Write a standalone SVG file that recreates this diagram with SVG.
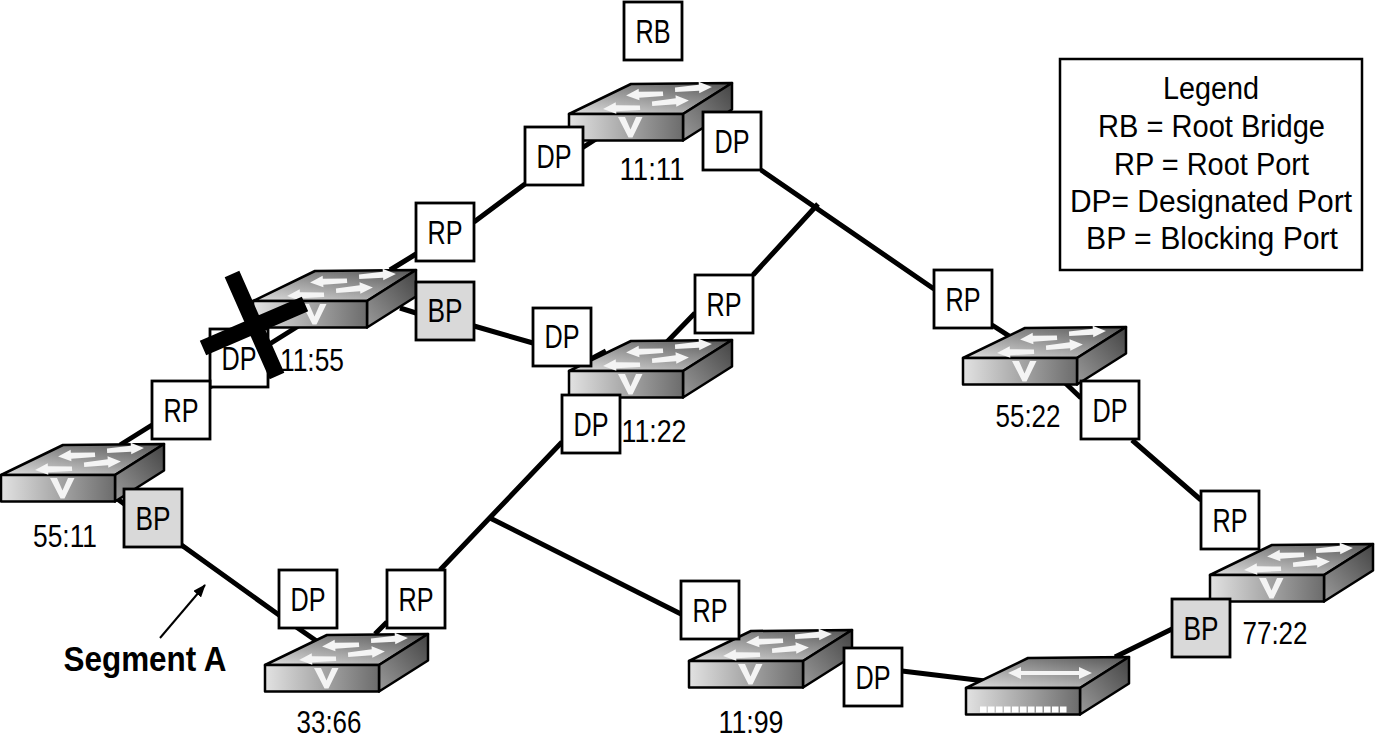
<svg xmlns="http://www.w3.org/2000/svg" width="1375" height="742" viewBox="0 0 1375 742">
<style>
text{font-family:"Liberation Sans",Arial,sans-serif;fill:#000;text-anchor:middle}
.port rect{stroke:#000;stroke-width:2.8;width:58px;height:58px}
.port text{font-size:33px}
.on{fill:#fff}.block{fill:#d9d9d9}
.addr{font-size:32px}
.legend{font-size:31px}
.link{fill:none;stroke:#000;stroke-width:5}
.edge{stroke:#000;stroke-width:2.5;stroke-linejoin:round}
.glyph{fill:#f4f4f4;stroke:none}
</style>
<defs>
<linearGradient id="front" x1="0" x2="1" y1="0" y2="0"><stop offset="0" stop-color="#e2e2e2"/><stop offset="1" stop-color="#6c6c6c"/></linearGradient>
<linearGradient id="top" x1="0.1" x2="0.9" y1="1" y2="0"><stop offset="0" stop-color="#d8d8d8"/><stop offset="1" stop-color="#5a5a5a"/></linearGradient>
<linearGradient id="side" x1="0" x2="1" y1="1" y2="0"><stop offset="0" stop-color="#9a9a9a"/><stop offset="1" stop-color="#444"/></linearGradient>
<marker id="head" markerWidth="13" markerHeight="10" refX="12" refY="5" orient="auto" markerUnits="userSpaceOnUse"><path d="M0 0L13 5L0 10Z"/></marker>
<path id="arw" d="M0-1.500L24-3L24-6L37 0L24 5.500L24 3L0 3Z"/>
<g id="box">
<path class="edge" fill="url(#top)" d="M0 0L62-30L163-31L114 0Z"/>
<path class="edge" fill="url(#side)" d="M114 0L163-31V-4.500L114 26.500Z"/>
<rect class="edge" fill="url(#front)" x="0" y="0" width="114" height="26.500"/>
</g>
<g id="switch">
<use href="#box"/>
<use class="glyph" href="#arw" transform="translate(94,-21) rotate(176) scale(1,-1)"/>
<use class="glyph" href="#arw" transform="translate(106,-25) rotate(-3)"/>
<use class="glyph" href="#arw" transform="translate(71,-7) rotate(177) scale(1,-1)"/>
<use class="glyph" href="#arw" transform="translate(83,-11) rotate(-4)"/>
<path class="glyph" d="M49 3L56 3L61.500 15.500L67 3L73.500 3L63.500 23.500L59.500 23.500Z"/>
</g>
</defs>

<g id="connectors">
<path class="link" d="M120 445L152 425M210 387L240 366M268 345L300 325M390 270L416 254M474 222L525 184M582 148L610 130"/>
<path class="link" d="M400 308L416 313M474 326L533 343"/>
<path class="link" d="M589 360L606 351M664 345L695 313M753 275L818 204"/>
<path class="link" d="M761 170L934 289M992 325L1020 343M1060 378L1081 398M1132 440L1201 500"/>
<path class="link" d="M116 498L279 615L318 642M375 634L387 622M440 570L562 442"/>
<path class="link" d="M490 518L681 614"/>
<path class="link" d="M902 671L985 681M1115 657L1172 629"/>
</g>

<g id="sw-11-11"><use href="#switch" x="569" y="114"/><text class="addr" x="652" y="180" textLength="65" lengthAdjust="spacingAndGlyphs">11:11</text></g>
<g id="sw-11-55"><use href="#switch" x="253" y="301"/><text class="addr" x="312" y="371" textLength="64" lengthAdjust="spacingAndGlyphs">11:55</text></g>
<g id="sw-55-11"><use href="#switch" x="1" y="475"/><text class="addr" x="65" y="547" textLength="64" lengthAdjust="spacingAndGlyphs">55:11</text></g>
<g id="sw-11-22"><use href="#switch" x="569" y="371"/><text class="addr" x="654" y="442" textLength="65" lengthAdjust="spacingAndGlyphs">11:22</text></g>
<g id="sw-55-22"><use href="#switch" x="963" y="358"/><text class="addr" x="1028" y="427" textLength="65" lengthAdjust="spacingAndGlyphs">55:22</text></g>
<g id="sw-33-66"><use href="#switch" x="265" y="665"/><text class="addr" x="329" y="733" textLength="65" lengthAdjust="spacingAndGlyphs">33:66</text></g>
<g id="sw-11-99"><use href="#switch" x="689" y="661"/><text class="addr" x="751" y="733" textLength="65" lengthAdjust="spacingAndGlyphs">11:99</text></g>
<g id="sw-77-22"><use href="#switch" x="1210" y="575"/><text class="addr" x="1275" y="644" textLength="65" lengthAdjust="spacingAndGlyphs">77:22</text></g>

<g id="hub">
<use href="#box" x="966" y="688"/>
<path class="glyph" d="M1008 673L1021 667L1021 671L1079 671L1079 667L1092 673L1079 679L1079 675L1021 675L1021 679Z"/>
<path fill="none" stroke="#fff" stroke-width="6" stroke-dasharray="6.500 1.500" d="M980 709.500H1067"/>
</g>

<g class="port" id="port-rb"><rect class="on" x="624" y="2"/><text x="653" y="43" textLength="35" lengthAdjust="spacingAndGlyphs">RB</text></g>
<g class="port" id="port-dp1"><rect class="on" x="525" y="127"/><text x="554" y="168" textLength="35" lengthAdjust="spacingAndGlyphs">DP</text></g>
<g class="port" id="port-dp2"><rect class="on" x="703" y="112"/><text x="732" y="153" textLength="35" lengthAdjust="spacingAndGlyphs">DP</text></g>
<g class="port" id="port-rp1"><rect class="on" x="416" y="203"/><text x="445" y="244" textLength="35" lengthAdjust="spacingAndGlyphs">RP</text></g>
<g class="port" id="port-bp1"><rect class="block" x="416" y="282"/><text x="445" y="322" textLength="35" lengthAdjust="spacingAndGlyphs">BP</text></g>
<g class="port" id="port-dp3"><rect class="on" x="533" y="308"/><text x="562" y="348" textLength="35" lengthAdjust="spacingAndGlyphs">DP</text></g>
<g class="port" id="port-rp2"><rect class="on" x="695" y="275"/><text x="724" y="316" textLength="35" lengthAdjust="spacingAndGlyphs">RP</text></g>
<g class="port" id="port-rp3"><rect class="on" x="934" y="270"/><text x="963" y="311" textLength="35" lengthAdjust="spacingAndGlyphs">RP</text></g>
<g class="port" id="port-dp4"><rect class="on" x="210" y="329"/><text x="239" y="370" textLength="35" lengthAdjust="spacingAndGlyphs">DP</text></g>
<g class="port" id="port-rp4"><rect class="on" x="152" y="381"/><text x="181" y="422" textLength="35" lengthAdjust="spacingAndGlyphs">RP</text></g>
<g class="port" id="port-dp5"><rect class="on" x="1081" y="381"/><text x="1110" y="422" textLength="35" lengthAdjust="spacingAndGlyphs">DP</text></g>
<g class="port" id="port-dp6"><rect class="on" x="562" y="395"/><text x="591" y="436" textLength="35" lengthAdjust="spacingAndGlyphs">DP</text></g>
<g class="port" id="port-bp2"><rect class="block" x="124" y="489"/><text x="153" y="530" textLength="35" lengthAdjust="spacingAndGlyphs">BP</text></g>
<g class="port" id="port-rp5"><rect class="on" x="1201" y="491"/><text x="1230" y="532" textLength="35" lengthAdjust="spacingAndGlyphs">RP</text></g>
<g class="port" id="port-dp7"><rect class="on" x="279" y="570"/><text x="308" y="611" textLength="35" lengthAdjust="spacingAndGlyphs">DP</text></g>
<g class="port" id="port-rp6"><rect class="on" x="387" y="570"/><text x="416" y="611" textLength="35" lengthAdjust="spacingAndGlyphs">RP</text></g>
<g class="port" id="port-rp7"><rect class="on" x="681" y="581"/><text x="710" y="622" textLength="35" lengthAdjust="spacingAndGlyphs">RP</text></g>
<g class="port" id="port-dp8"><rect class="on" x="844" y="648"/><text x="873" y="689" textLength="35" lengthAdjust="spacingAndGlyphs">DP</text></g>
<g class="port" id="port-bp3"><rect class="block" x="1172" y="599"/><text x="1201" y="640" textLength="35" lengthAdjust="spacingAndGlyphs">BP</text></g>

<g id="failure"><path fill="none" stroke="#000" stroke-width="16" d="M232 274L277 376M203 348L305 304"/></g>

<g id="segment-a">
<path fill="none" stroke="#000" stroke-width="2" marker-end="url(#head)" d="M160 638L205 585"/>
<text x="145" y="671" font-size="35" font-weight="bold" textLength="163" lengthAdjust="spacingAndGlyphs">Segment A</text>
</g>

<g id="legend">
<rect x="1060" y="59" width="302" height="211" fill="#fff" stroke="#000" stroke-width="2.500"/>
<text class="legend" x="1211" y="99" textLength="96" lengthAdjust="spacingAndGlyphs">Legend</text>
<text class="legend" x="1211.500" y="137" textLength="227" lengthAdjust="spacingAndGlyphs">RB = Root Bridge</text>
<text class="legend" x="1211.500" y="175" textLength="195" lengthAdjust="spacingAndGlyphs">RP = Root Port</text>
<text class="legend" x="1211" y="212" textLength="282" lengthAdjust="spacingAndGlyphs">DP= Designated Port</text>
<text class="legend" x="1212" y="249" textLength="252" lengthAdjust="spacingAndGlyphs">BP = Blocking Port</text>
</g>
</svg>
